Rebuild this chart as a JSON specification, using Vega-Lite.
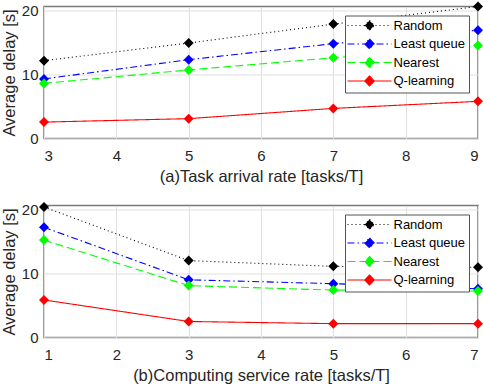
{
  "$schema": "https://vega.github.io/schema/vega-lite/v6.json",
  "padding": {"left": 0, "top": 0.5, "right": 0, "bottom": 0},
  "background": "white",
  "spacing": 14,
  "config": {
    "font": "Liberation Sans",
    "view": {"stroke": "#7a7a7a", "strokeWidth": 1.5},
    "axis": {
      "grid": true, "gridColor": "#e0e0e0", "ticks": false, "domain": false,
      "labelFontSize": 15, "labelColor": "#262626",
      "titleFontSize": 16.5, "titleFontWeight": "normal", "titleColor": "#262626", "titlePadding": 4
    },
    "axisX": {"labelPadding": 9.5, "titlePadding": 5.5},
    "axisY": {"labelPadding": 6},
    "legend": {
      "orient": "top-right", "offset": 9, "title": null,
      "fillColor": "white", "strokeColor": "#555555", "padding": 3.5,
      "labelFontSize": 13, "labelColor": "#000000", "labelOffset": 32,
      "rowPadding": 3.5,
      "symbolType": "M-1.5,0H7.3M2.9,-1L3.85,0L2.9,1L1.95,0Z",
      "symbolSize": 100, "symbolStrokeWidth": 1.1
    }
  },
  "resolve": {"legend": {"color": "independent", "strokeDash": "independent"}},
  "vconcat": [
    {
      "width": 434, "height": 132,
      "data": {"values": [
        {"rate": 3, "method": "Random", "delay": 12.15},
        {"rate": 5, "method": "Random", "delay": 14.9},
        {"rate": 7, "method": "Random", "delay": 17.85},
        {"rate": 9, "method": "Random", "delay": 20.6},
        {"rate": 3, "method": "Least queue", "delay": 9.3},
        {"rate": 5, "method": "Least queue", "delay": 12.3},
        {"rate": 7, "method": "Least queue", "delay": 14.8},
        {"rate": 9, "method": "Least queue", "delay": 16.9},
        {"rate": 3, "method": "Nearest", "delay": 8.6},
        {"rate": 5, "method": "Nearest", "delay": 10.7},
        {"rate": 7, "method": "Nearest", "delay": 12.6},
        {"rate": 9, "method": "Nearest", "delay": 14.5},
        {"rate": 3, "method": "Q-learning", "delay": 2.56},
        {"rate": 5, "method": "Q-learning", "delay": 3.1},
        {"rate": 7, "method": "Q-learning", "delay": 4.7},
        {"rate": 9, "method": "Q-learning", "delay": 5.8}
      ]},
      "encoding": {
        "x": {"field": "rate", "type": "quantitative", "scale": {"domain": [3, 9], "nice": false},
              "axis": {"values": [3, 4, 5, 6, 7, 8, 9], "format": "d", "title": "(a)Task arrival rate [tasks/T]"}},
        "y": {"field": "delay", "type": "quantitative", "scale": {"domain": [0, 20.6], "nice": false},
              "axis": {"values": [0, 10, 20], "title": "Average delay [s]"}},
        "color": {"field": "method", "type": "nominal",
                  "scale": {"domain": ["Random", "Least queue", "Nearest", "Q-learning"], "range": ["#000000", "#0000ff", "#00ff00", "#ff0000"]}}
      },
      "layer": [
        {"mark": {"type": "line", "strokeWidth": 1.1, "clip": false},
         "encoding": {"strokeDash": {"field": "method", "type": "nominal",
           "scale": {"domain": ["Random", "Least queue", "Nearest", "Q-learning"], "range": [[1, 3], [7, 3, 1.5, 3], [8, 4], [1, 0]]}}}},
        {"mark": {"type": "point", "shape": "diamond", "filled": true, "size": 100, "opacity": 1, "clip": false}}
      ]
    },
    {
      "width": 434, "height": 132,
      "data": {"values": [
        {"rate": 1, "method": "Random", "delay": 20.36},
        {"rate": 3, "method": "Random", "delay": 12.0},
        {"rate": 5, "method": "Random", "delay": 11.1},
        {"rate": 7, "method": "Random", "delay": 10.95},
        {"rate": 1, "method": "Least queue", "delay": 17.2},
        {"rate": 3, "method": "Least queue", "delay": 9.0},
        {"rate": 5, "method": "Least queue", "delay": 8.4},
        {"rate": 7, "method": "Least queue", "delay": 7.6},
        {"rate": 1, "method": "Nearest", "delay": 15.2},
        {"rate": 3, "method": "Nearest", "delay": 8.1},
        {"rate": 5, "method": "Nearest", "delay": 7.4},
        {"rate": 7, "method": "Nearest", "delay": 7.25},
        {"rate": 1, "method": "Q-learning", "delay": 5.86},
        {"rate": 3, "method": "Q-learning", "delay": 2.5},
        {"rate": 5, "method": "Q-learning", "delay": 2.16},
        {"rate": 7, "method": "Q-learning", "delay": 2.16}
      ]},
      "encoding": {
        "x": {"field": "rate", "type": "quantitative", "scale": {"domain": [1, 7], "nice": false},
              "axis": {"values": [1, 2, 3, 4, 5, 6, 7], "format": "d", "title": "(b)Computing service rate [tasks/T]"}},
        "y": {"field": "delay", "type": "quantitative", "scale": {"domain": [0, 20.6], "nice": false},
              "axis": {"values": [0, 10, 20], "title": "Average delay [s]"}},
        "color": {"field": "method", "type": "nominal",
                  "scale": {"domain": ["Random", "Least queue", "Nearest", "Q-learning"], "range": ["#000000", "#0000ff", "#00ff00", "#ff0000"]}}
      },
      "layer": [
        {"mark": {"type": "line", "strokeWidth": 1.1, "clip": false},
         "encoding": {"strokeDash": {"field": "method", "type": "nominal",
           "scale": {"domain": ["Random", "Least queue", "Nearest", "Q-learning"], "range": [[1, 3], [7, 3, 1.5, 3], [8, 4], [1, 0]]}}}},
        {"mark": {"type": "point", "shape": "diamond", "filled": true, "size": 100, "opacity": 1, "clip": false}}
      ]
    }
  ]
}
